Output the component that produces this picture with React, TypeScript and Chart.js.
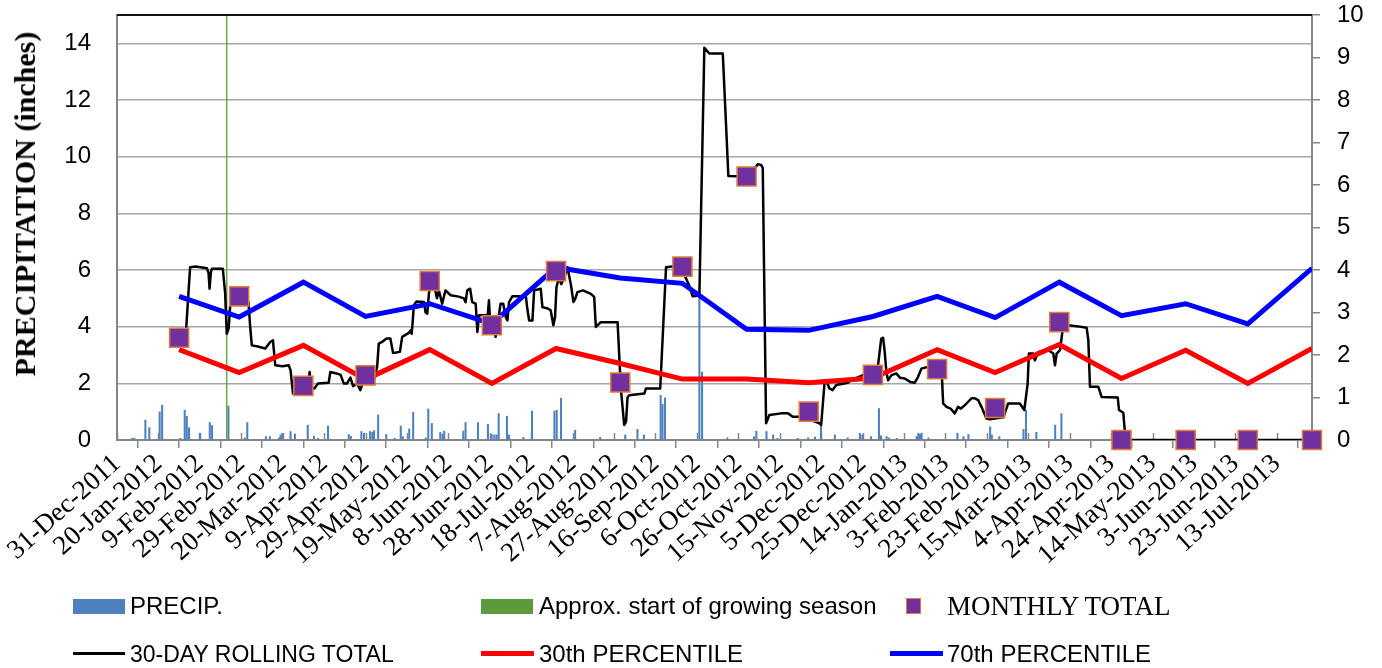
import React, { useEffect, useRef } from 'react';
import { Chart, registerables } from 'chart.js';

Chart.register(...registerables);

// X axis tick labels (every 20 days from 31-Dec-2011)
const xTickLabels = [
  '31-Dec-2011', '20-Jan-2012', '9-Feb-2012', '29-Feb-2012', '20-Mar-2012', '9-Apr-2012',
  '29-Apr-2012', '19-May-2012', '8-Jun-2012', '28-Jun-2012', '18-Jul-2012', '7-Aug-2012',
  '27-Aug-2012', '16-Sep-2012', '6-Oct-2012', '26-Oct-2012', '15-Nov-2012', '5-Dec-2012',
  '25-Dec-2012', '14-Jan-2013', '3-Feb-2013', '23-Feb-2013', '15-Mar-2013', '4-Apr-2013',
  '24-Apr-2013', '14-May-2013', '3-Jun-2013', '23-Jun-2013', '13-Jul-2013',
];
const xTickDays = xTickLabels.map((_, i) => i * 20);
const leftTicks = [0, 2, 4, 6, 8, 10, 12, 14];
const rightTicks = [0, 1, 2, 3, 4, 5, 6, 7, 8, 9, 10];

// Monthly positions (days after 31-Dec-2011)
const monthDays = [30, 59, 90, 120, 151, 181, 212, 243, 273, 304, 334, 365, 396, 424, 455, 485, 516, 546, 577];
const monthlyTotal = [3.61, 5.07, 1.91, 2.28, 5.61, 4.05, 5.96, 2.03, 6.12, 9.3, 1.0, 2.3, 2.5, 1.13, 4.16, 0, 0, 0, 0];
const pct70 = [5.07, 4.34, 5.57, 4.36, 4.81, 4.1, 6.1, 5.72, 5.53, 3.91, 3.87, 4.36, 5.07, 4.32, 5.57, 4.39, 4.81, 4.1, 6.06];
const pct30 = [3.19, 2.38, 3.34, 2.14, 3.19, 2.0, 3.23, 2.7, 2.15, 2.15, 2.02, 2.19, 3.19, 2.38, 3.37, 2.17, 3.17, 2.0, 3.23];

// Growing season start (day)
const growingDay = 53;

// 30-day rolling total
const rollDays = [
  30, 33.4, 35.3, 38, 43.4, 44.2, 44.7, 45.3, 45.8, 51.1, 52.2, 53.0, 53.9, 55, 63.5, 64.3, 65.1, 68, 71.6, 74,
  75.3, 76.4, 80, 82.9, 83.8, 85, 92, 93, 93.6, 95.3, 97, 102.2, 103, 106, 108, 109.5, 111, 112.7, 114, 116,
  117.5, 119.1, 124, 125.6, 126.4, 128, 130.1, 132, 133.3, 136.6, 137.7, 140.9, 141.7, 142.3, 142.8, 143.3, 144.6, 148.2, 149.0, 149.8,
  150.6, 151.5, 153, 154.5, 155.4, 157, 158.6, 161.1, 165, 167.5, 168.3, 169.1, 170.5, 171.5, 173.2, 174, 174.8, 179, 179.6, 180.4,
  181.2, 182.8, 184, 185.2, 186.5, 187.7, 188.5, 189.3, 190.9, 196.5, 197.3, 198.1, 199, 200.6, 201.4, 204.6, 205.4, 208, 209.4, 210.7,
  211.5, 212.2, 213.5, 214.5, 216, 217.5, 219.1, 220.4, 221.3, 222.3, 225, 228.8, 230.4, 231.2, 233.6, 241.7, 243.3, 244.9, 245.8, 246.5,
  247.3, 254.6, 255.4, 262.3, 265.1, 269.1, 272, 276.3, 278, 281.2, 283.6, 286, 292.5, 295.2, 305, 309.4, 311, 311.8, 313.4, 315,
  320.7, 324, 326.3, 331, 339.2, 340, 341.6, 342.4, 344, 345.5, 347.3, 352.9, 354.5, 360.2, 361.8, 364, 367.4, 369, 369.9, 370.6,
  371.5, 372.3, 374, 376.3, 378, 380.3, 383, 385.2, 386.8, 388.4, 391.6, 398.1, 398.9, 400.5, 402.5, 404.5, 406.1, 407.5, 409.4, 411,
  412.6, 414.2, 415.8, 417.4, 419.8, 421.4, 428, 430.3, 435.9, 438.1, 439.7, 440.3, 442.4, 443.2, 444.8, 449.7, 452.1, 452.9, 453.7, 455.3,
  456.9, 459.3, 464.2, 468.2, 469, 469.8, 473.8, 475.4, 483.2, 483.8, 485.9, 486.7, 487.1, 577,
];
const rollVals = [
  3.6, 3.93, 6.1, 6.12, 6.06, 5.9, 5.34, 5.9, 6.04, 6.04, 5.2, 3.75, 3.93, 5.1, 4.87, 4.0, 3.34, 3.3, 3.23, 3.46,
  3.52, 2.64, 2.6, 2.64, 2.46, 1.64, 1.62, 2.4, 1.85, 1.82, 1.99, 2.02, 2.4, 2.35, 2.3, 1.99, 1.99, 2.2, 1.9, 1.99,
  1.76, 2.11, 2.11, 2.58, 3.4, 3.46, 3.58, 3.58, 3.07, 3.11, 3.64, 3.78, 3.87, 3.75, 4.2, 4.75, 4.89, 4.87, 4.5, 4.46,
  5.16, 5.6, 5.5, 5.0, 5.28, 4.81, 5.28, 5.11, 5.06, 5.0, 4.86, 5.28, 5.34, 4.87, 4.81, 3.81, 4.4, 4.4, 4.93, 3.81,
  4.22, 3.64, 4.22, 4.81, 4.81, 4.34, 4.22, 4.87, 5.07, 5.07, 5.16, 4.64, 4.22, 4.22, 5.28, 5.34, 4.69, 4.64, 4.58, 4.05,
  4.34, 5.4, 5.75, 5.5, 5.75, 6.1, 5.51, 4.87, 4.99, 5.22, 5.28, 5.16, 5.05, 3.99, 4.16, 4.16, 1.8, 0.53, 0.65, 1.5,
  1.58, 1.64, 1.82, 1.82, 6.1, 6.13, 6.13, 5.45, 5.07, 5.1, 13.84, 13.64, 13.64, 9.32, 9.3, 9.73, 9.71, 9.6, 0.59, 0.88,
  0.94, 0.94, 0.82, 0.82, 0.59, 0.53, 1.99, 2.11, 1.82, 1.76, 1.94, 2.02, 2.11, 2.29, 2.23, 2.3, 2.6, 3.58, 3.61, 3.17,
  2.4, 2.11, 2.29, 2.35, 2.2, 2.17, 2.05, 2.02, 2.23, 2.52, 2.58, 2.58, 1.29, 1.17, 1.11, 0.94, 1.17, 1.11, 1.23, 1.35,
  1.47, 1.47, 1.41, 1.17, 0.76, 0.73, 0.8, 1.29, 1.29, 1.06, 1.99, 3.05, 3.05, 2.81, 3.11, 3.17, 3.05, 2.64, 3.05, 3.17,
  4.05, 4.05, 4.01, 3.96, 3.52, 1.88, 1.88, 1.52, 1.5, 1.06, 0.96, 0.23, 0, 0,
];

// Daily precipitation (right axis units)
const precipDays = [
  7.3, 8.4, 13.7, 15.6, 20.6, 21.8, 30.6, 32.7, 33.7, 34.8, 40, 44.8, 45.9, 53.8, 61.7, 62.9, 71.9, 73.8, 78.2, 79,
  79.8, 83.8, 85.9, 92.1, 95.1, 97.1, 101.9, 111.9, 112.9, 118, 119.3, 122.2, 123.3, 124.1, 126.1, 130, 134.1, 137, 138, 141.1,
  143, 149.1, 150.3, 152, 156.1, 157.2, 158, 167.2, 168.3, 174.3, 179.1, 180.9, 182.2, 183.3, 184.3, 188.3, 189.3, 196.2, 200.4, 211.2,
  212.3, 214.4, 221.2, 233.3, 245.4, 251.3, 254.4, 262.5, 263.4, 264.6, 281.2, 282.5, 294.7, 307.6, 308.7, 313.6, 316.8, 318.9, 328.6, 333.7,
  337, 339.9, 346.6, 352.8, 358.7, 359.9, 364.1, 367.9, 368.9, 371.6, 372.8, 376.5, 386.1, 386.9, 387.7, 388.5, 391.8, 405.8, 408.7, 411.1,
  421.6, 422.4, 426, 437.7, 438.9, 443.9, 453, 456,
];
const precipVals = [
  0.04, 0.04, 0.47, 0.29, 0.66, 0.82, 0.04, 0.7, 0.56, 0.29, 0.16, 0.41, 0.34, 0.8, 0.05, 0.41, 0.08, 0.08, 0.05, 0.12,
  0.16, 0.2, 0.14, 0.35, 0.09, 0.04, 0.33, 0.13, 0.09, 0.2, 0.16, 0.2, 0.18, 0.22, 0.59, 0.13, 0.04, 0.33, 0.08, 0.26,
  0.65, 0.05, 0.73, 0.39, 0.18, 0.14, 0.21, 0.21, 0.41, 0.41, 0.37, 0.13, 0.12, 0.12, 0.62, 0.56, 0.12, 0.06, 0.68, 0.68,
  0.7, 0.98, 0.23, 0.06, 0.12, 0.25, 0.12, 1.05, 0.84, 0.99, 3.44, 1.6, 0.05, 0.08, 0.21, 0.2, 0.12, 0.04, 0.04, 0.05,
  0.07, 0.35, 0.12, 0.05, 0.16, 0.12, 0.08, 0.74, 0.1, 0.08, 0.05, 0.04, 0.08, 0.16, 0.13, 0.16, 0.05, 0.16, 0.08, 0.13,
  0.31, 0.12, 0.08, 0.25, 0.7, 0.18, 0.35, 0.62,
];

const SANS = '"Liberation Sans", Arial, sans-serif';
const SERIF = '"Liberation Serif", "Times New Roman", serif';
const AXIS_GREY = '#868686';

const zeroPad = (s: any) => {
  s.paddingTop = 0;
  s.paddingBottom = 0;
  s.paddingLeft = 0;
  s.paddingRight = 0;
};

export default function App() {
  const ref = useRef<HTMLCanvasElement>(null);

  useEffect(() => {
    if (!ref.current) return;
    const extras = {
      id: 'extras',
      beforeDatasetsDraw(chart: any) {
        const { ctx, chartArea, scales } = chart;
        ctx.save();
        ctx.strokeStyle = AXIS_GREY;
        ctx.lineWidth = 1.5;
        xTickDays.forEach((d) => {
          const px = Math.round(scales.x.getPixelForValue(d)) + 0.5;
          ctx.beginPath();
          ctx.moveTo(px, chartArea.bottom - 7);
          ctx.lineTo(px, chartArea.bottom);
          ctx.stroke();
        });
        ctx.restore();
      },
      afterDraw(chart: any) {
        const { ctx, chartArea } = chart;
        ctx.save();
        ctx.strokeStyle = '#111';
        ctx.lineWidth = 2;
        ctx.beginPath();
        ctx.moveTo(chartArea.left, chartArea.top);
        ctx.lineTo(chartArea.right, chartArea.top);
        ctx.stroke();
        ctx.restore();
      },
    };

    const chart = new Chart(ref.current, {
      type: 'line',
      data: {
        datasets: [
          {
            type: 'line',
            label: 'MONTHLY TOTAL',
            data: monthDays.map((d, i) => ({ x: d, y: monthlyTotal[i] })),
            showLine: false,
            pointStyle: 'rect',
            pointRadius: 13.5,
            pointBackgroundColor: '#7030a0',
            pointBorderColor: '#e07b39',
            pointBorderWidth: 1.5,
            yAxisID: 'y',
            order: 0,
            clip: false,
          },
          {
            type: 'line',
            label: '70th PERCENTILE',
            data: monthDays.map((d, i) => ({ x: d, y: pct70[i] })),
            borderColor: '#0000ff',
            borderWidth: 5,
            pointRadius: 0,
            yAxisID: 'y',
            order: 1,
          },
          {
            type: 'line',
            label: '30th PERCENTILE',
            data: monthDays.map((d, i) => ({ x: d, y: pct30[i] })),
            borderColor: '#ff0000',
            borderWidth: 5,
            pointRadius: 0,
            yAxisID: 'y',
            order: 2,
          },
          {
            type: 'line',
            label: '30-DAY ROLLING TOTAL',
            data: rollDays.map((d, i) => ({ x: d, y: rollVals[i] })),
            borderColor: '#000000',
            borderWidth: 2.5,
            borderJoinStyle: 'round',
            pointRadius: 0,
            yAxisID: 'y',
            order: 3,
          },
          {
            type: 'line',
            label: 'Approx. start of growing season',
            data: [{ x: growingDay, y: 0 }, { x: growingDay, y: 10 }],
            borderColor: '#5b9b3c',
            borderWidth: 1.3,
            pointRadius: 0,
            yAxisID: 'y1',
            order: 4,
          },
          {
            type: 'bar',
            label: 'PRECIP.',
            data: precipDays.map((d, i) => ({ x: d, y: precipVals[i] })),
            backgroundColor: '#4f81bd',
            barThickness: 1.4,
            grouped: false,
            yAxisID: 'y1',
            order: 5,
          },
        ] as any,
      },
      options: {
        animation: false,
        responsive: false,
        devicePixelRatio: 1,
        layout: { padding: { top: 13, left: 0, right: 0, bottom: 0 } },
        plugins: { legend: { display: false }, tooltip: { enabled: false } },
        scales: {
          x: {
            type: 'linear',
            min: 0,
            max: 577,
            offset: false,
            afterBuildTicks: (s: any) => {
              s.ticks = xTickDays.map((v) => ({ value: v }));
            },
            afterFit: (s: any) => {
              s.height = 228;
              zeroPad(s);
            },
            ticks: {
              autoSkip: false,
              minRotation: 42,
              maxRotation: 42,
              padding: 0,
              color: '#000',
              font: { family: SERIF, size: 27 },
              callback: (_v: any, i: number) => xTickLabels[i],
            },
            grid: { drawOnChartArea: false, drawTicks: true, tickLength: 8, color: AXIS_GREY, lineWidth: 1.5 },
            border: { display: true, color: AXIS_GREY, width: 2 },
          },
          y: {
            type: 'linear',
            position: 'left',
            min: 0,
            max: 15,
            afterBuildTicks: (s: any) => {
              s.ticks = leftTicks.map((v) => ({ value: v }));
            },
            afterFit: (s: any) => {
              s.width = 117;
              zeroPad(s);
            },
            ticks: { color: '#000', padding: 26, font: { family: SANS, size: 24 } },
            grid: { color: '#a6a6a6', lineWidth: 1.5, drawTicks: false },
            border: { display: true, color: AXIS_GREY, width: 2 },
          },
          y1: {
            type: 'linear',
            position: 'right',
            min: 0,
            max: 10,
            afterBuildTicks: (s: any) => {
              s.ticks = rightTicks.map((v) => ({ value: v }));
            },
            afterFit: (s: any) => {
              s.width = 70;
              zeroPad(s);
            },
            ticks: { color: '#000', padding: 17, font: { family: SANS, size: 24 } },
            grid: { drawOnChartArea: false, drawTicks: true, tickLength: 8, color: AXIS_GREY, lineWidth: 1.5 },
            border: { display: true, color: AXIS_GREY, width: 2 },
          },
        },
      },
      plugins: [extras],
    } as any);
    return () => chart.destroy();
  }, []);

  const legendText = (left: number, cy: number, text: string, font: string, size: number) => (
    <div
      style={{
        position: 'absolute',
        left,
        top: cy - 16,
        height: 32,
        lineHeight: '32px',
        fontFamily: font,
        fontSize: size,
        color: '#000',
        whiteSpace: 'nowrap',
      }}
    >
      {text}
    </div>
  );
  const swatch = (left: number, top: number, w: number, h: number, color: string, border?: string) => (
    <div
      style={{
        position: 'absolute',
        left,
        top,
        width: w,
        height: h,
        background: color,
        boxSizing: 'border-box',
        border: border ? `1.5px solid ${border}` : 'none',
      }}
    />
  );

  return (
    <div style={{ position: 'absolute', left: 0, top: 0, width: 1382, height: 668, background: '#fff', overflow: 'hidden' }}>
      <canvas ref={ref} width={1382} height={668} style={{ position: 'absolute', left: 0, top: 0 }} />
      <div
        style={{
          position: 'absolute',
          left: 25,
          top: 204,
          transform: 'translate(-50%, -50%) rotate(-90deg)',
          whiteSpace: 'nowrap',
          fontFamily: SERIF,
          fontWeight: 'bold',
          fontSize: 30,
          color: '#000',
        }}
      >
        PRECIPITATION (inches)
      </div>
      {swatch(73, 599, 52, 15, '#4f81bd')}
      {legendText(130, 606, 'PRECIP.', SANS, 24)}
      {swatch(481, 599, 52, 15, '#5b9b3c')}
      {legendText(539, 606, 'Approx. start of growing season', SANS, 24)}
      {swatch(906, 598, 15, 16, '#7030a0', '#e07b39')}
      {legendText(947, 606, 'MONTHLY TOTAL', SERIF, 27)}
      {swatch(73, 652, 52, 3, '#000')}
      {legendText(130, 654, '30-DAY ROLLING TOTAL', SANS, 23)}
      {swatch(481, 651, 53, 5, '#ff0000')}
      {legendText(539, 654, '30th PERCENTILE', SANS, 24)}
      {swatch(890, 651, 53, 5, '#0000ff')}
      {legendText(947, 654, '70th PERCENTILE', SANS, 24)}
    </div>
  );
}
